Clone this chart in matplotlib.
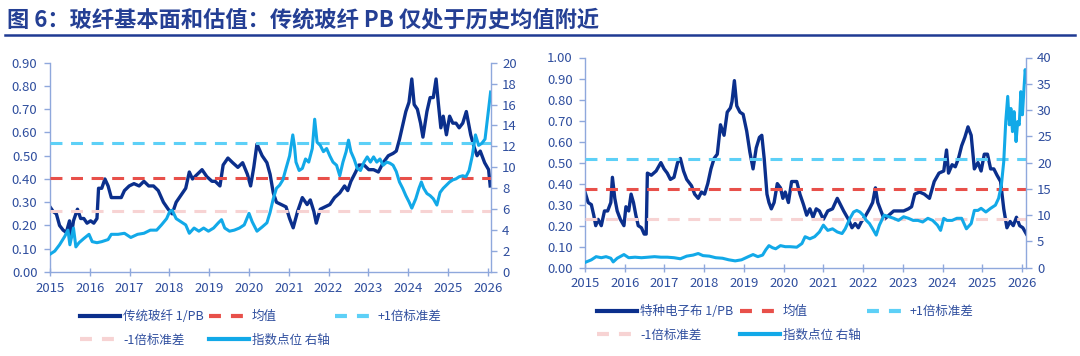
import matplotlib
matplotlib.use('Agg')
import matplotlib.pyplot as plt
from matplotlib.lines import Line2D

plt.rcParams['font.family'] = ['Noto Sans CJK SC', 'DejaVu Sans']
plt.rcParams['lines.scale_dashes'] = False

# ---- 左图: 传统玻纤 ----
gf_pb_dates = [2015.00, 2015.08, 2015.16, 2015.24, 2015.33, 2015.41, 2015.49, 2015.53, 2015.59, 2015.65,
               2015.69, 2015.77, 2015.85, 2015.93, 2016.02, 2016.10, 2016.18, 2016.22, 2016.30, 2016.38,
               2016.46, 2016.54, 2016.67, 2016.79, 2016.87, 2016.99, 2017.11, 2017.24, 2017.36, 2017.48,
               2017.60, 2017.72, 2017.85, 2017.97, 2018.07, 2018.17, 2018.29, 2018.41, 2018.50, 2018.58,
               2018.70, 2018.82, 2018.94, 2019.07, 2019.15, 2019.27, 2019.35, 2019.47, 2019.59, 2019.72,
               2019.84, 2019.96, 2020.04, 2020.12, 2020.20, 2020.33, 2020.45, 2020.53, 2020.61, 2020.69,
               2020.81, 2020.93, 2021.02, 2021.11, 2021.22, 2021.34, 2021.46, 2021.54, 2021.63, 2021.69,
               2021.79, 2021.91, 2022.03, 2022.15, 2022.28, 2022.40, 2022.48, 2022.56, 2022.68, 2022.76,
               2022.89, 2023.01, 2023.13, 2023.25, 2023.37, 2023.50, 2023.62, 2023.70, 2023.78, 2023.86,
               2023.94, 2024.02, 2024.09, 2024.15, 2024.23, 2024.31, 2024.37, 2024.47, 2024.55, 2024.63,
               2024.70, 2024.76, 2024.82, 2024.88, 2024.96, 2025.04, 2025.12, 2025.20, 2025.28, 2025.37,
               2025.46, 2025.57, 2025.65, 2025.73, 2025.81, 2025.92, 2026.02, 2026.06]
gf_pb = [0.28, 0.26, 0.25, 0.20, 0.18, 0.17, 0.22, 0.15, 0.22, 0.25,
         0.27, 0.23, 0.23, 0.21, 0.22, 0.21, 0.23, 0.36, 0.36, 0.40,
         0.37, 0.32, 0.32, 0.32, 0.35, 0.37, 0.38, 0.37, 0.39, 0.37,
         0.37, 0.35, 0.30, 0.27, 0.25, 0.30, 0.33, 0.36, 0.43, 0.40,
         0.42, 0.44, 0.41, 0.39, 0.39, 0.37, 0.46, 0.49, 0.47, 0.45,
         0.47, 0.42, 0.37, 0.45, 0.55, 0.50, 0.47, 0.42, 0.34, 0.30,
         0.29, 0.28, 0.23, 0.19, 0.26, 0.32, 0.29, 0.31, 0.26, 0.21,
         0.27, 0.28, 0.29, 0.32, 0.34, 0.37, 0.35, 0.39, 0.43, 0.46,
         0.46, 0.44, 0.44, 0.43, 0.47, 0.50, 0.51, 0.52, 0.57, 0.63,
         0.69, 0.73, 0.83, 0.72, 0.70, 0.64, 0.58, 0.69, 0.75, 0.75,
         0.83, 0.72, 0.62, 0.67, 0.59, 0.67, 0.64, 0.64, 0.62, 0.64,
         0.69, 0.59, 0.54, 0.50, 0.52, 0.47, 0.44, 0.37]

gf_idx_dates = [2015.00, 2015.12, 2015.24, 2015.37, 2015.45, 2015.50, 2015.59, 2015.65, 2015.73, 2015.85,
                2015.98, 2016.06, 2016.18, 2016.30, 2016.46, 2016.54, 2016.71, 2016.87, 2017.03, 2017.20,
                2017.36, 2017.52, 2017.68, 2017.80, 2017.93, 2018.01, 2018.07, 2018.17, 2018.29, 2018.41,
                2018.50, 2018.62, 2018.74, 2018.86, 2018.98, 2019.11, 2019.23, 2019.31, 2019.39, 2019.51,
                2019.63, 2019.76, 2019.88, 2020.00, 2020.08, 2020.20, 2020.33, 2020.45, 2020.53, 2020.61,
                2020.69, 2020.77, 2020.85, 2020.93, 2021.02, 2021.10, 2021.14, 2021.18, 2021.26, 2021.34,
                2021.42, 2021.50, 2021.59, 2021.65, 2021.71, 2021.79, 2021.87, 2021.95, 2022.03, 2022.11,
                2022.20, 2022.28, 2022.36, 2022.44, 2022.50, 2022.56, 2022.64, 2022.72, 2022.80, 2022.89,
                2022.97, 2023.05, 2023.13, 2023.21, 2023.29, 2023.37, 2023.46, 2023.54, 2023.62, 2023.70,
                2023.78, 2023.86, 2023.94, 2024.02, 2024.09, 2024.19, 2024.27, 2024.33, 2024.39, 2024.47,
                2024.55, 2024.63, 2024.72, 2024.80, 2024.88, 2024.96, 2025.04, 2025.12, 2025.20, 2025.28,
                2025.37, 2025.45, 2025.53, 2025.61, 2025.69, 2025.77, 2025.85, 2025.93, 2025.98, 2026.03,
                2026.07]
gf_idx = [1.7, 2.0, 2.6, 3.4, 4.0, 2.6, 4.2, 2.4, 2.8, 3.2,
          3.6, 2.9, 2.8, 2.9, 3.1, 3.6, 3.6, 3.7, 3.3, 3.6,
          3.7, 4.0, 4.0, 4.5, 5.1, 5.8, 5.9, 5.1, 4.8, 4.5,
          3.7, 4.2, 3.9, 4.2, 3.9, 4.2, 4.7, 5.0, 4.2, 3.9,
          4.0, 4.2, 4.5, 5.6, 4.8, 3.9, 4.3, 4.7, 5.7, 7.0,
          8.0, 8.3, 8.8, 9.9, 11.1, 13.1, 12.1, 10.5, 9.7, 9.9,
          10.8, 10.5, 11.8, 14.6, 12.4, 12.1, 11.5, 11.8, 11.1, 10.5,
          10.2, 9.2, 10.5, 11.5, 12.6, 11.5, 10.8, 9.9, 9.7, 10.5,
          11.0, 10.5, 11.0, 10.5, 10.8, 10.2, 10.5, 10.4, 10.2, 9.6,
          8.6, 8.0, 7.3, 6.7, 6.1, 7.0, 8.0, 8.6, 8.0, 7.5,
          7.3, 7.0, 6.4, 7.6, 8.0, 8.3, 8.6, 8.8, 8.9, 9.1,
          9.2, 9.1, 9.7, 11.1, 13.1, 12.1, 12.3, 12.7, 14.3, 15.9,
          17.2]
gf_mean, gf_up, gf_dn = 0.405, 0.553, 0.263

# ---- 右图: 特种电子布 ----
ec_pb_dates = [2015.00, 2015.08, 2015.16, 2015.22, 2015.27, 2015.33, 2015.41, 2015.49, 2015.57, 2015.65,
               2015.69, 2015.75, 2015.81, 2015.89, 2015.98, 2016.03, 2016.10, 2016.16, 2016.22, 2016.28,
               2016.34, 2016.42, 2016.49, 2016.54, 2016.57, 2016.67, 2016.79, 2016.91, 2016.99, 2017.07,
               2017.15, 2017.24, 2017.33, 2017.40, 2017.48, 2017.56, 2017.68, 2017.76, 2017.85, 2017.93,
               2018.01, 2018.09, 2018.17, 2018.25, 2018.33, 2018.41, 2018.50, 2018.58, 2018.66, 2018.70,
               2018.76, 2018.82, 2018.90, 2018.98, 2019.07, 2019.15, 2019.23, 2019.31, 2019.39, 2019.45,
               2019.51, 2019.58, 2019.63, 2019.69, 2019.76, 2019.84, 2019.92, 2019.98, 2020.04, 2020.12,
               2020.20, 2020.33, 2020.41, 2020.50, 2020.58, 2020.66, 2020.74, 2020.82, 2020.90, 2021.00,
               2021.11, 2021.23, 2021.35, 2021.43, 2021.51, 2021.63, 2021.72, 2021.80, 2021.88, 2021.96,
               2022.04, 2022.16, 2022.24, 2022.31, 2022.37, 2022.45, 2022.53, 2022.65, 2022.77, 2022.89,
               2023.02, 2023.14, 2023.22, 2023.30, 2023.42, 2023.54, 2023.67, 2023.79, 2023.91, 2024.03,
               2024.10, 2024.15, 2024.24, 2024.32, 2024.40, 2024.48, 2024.56, 2024.64, 2024.72, 2024.80,
               2024.89, 2024.97, 2025.05, 2025.13, 2025.21, 2025.29, 2025.37, 2025.46, 2025.54, 2025.62,
               2025.70, 2025.78, 2025.86, 2025.94, 2026.02, 2026.11]
ec_pb = [0.36, 0.31, 0.30, 0.25, 0.20, 0.23, 0.20, 0.27, 0.27, 0.31,
         0.43, 0.33, 0.27, 0.23, 0.20, 0.29, 0.27, 0.35, 0.31, 0.25,
         0.20, 0.19, 0.16, 0.16, 0.45, 0.44, 0.46, 0.50, 0.47, 0.45,
         0.42, 0.43, 0.50, 0.52, 0.46, 0.42, 0.39, 0.35, 0.33, 0.36,
         0.35, 0.40, 0.47, 0.52, 0.54, 0.68, 0.63, 0.74, 0.76, 0.79,
         0.89, 0.77, 0.74, 0.73, 0.65, 0.55, 0.47, 0.57, 0.62, 0.63,
         0.52, 0.35, 0.31, 0.28, 0.31, 0.40, 0.38, 0.33, 0.36, 0.31,
         0.41, 0.41, 0.35, 0.30, 0.25, 0.28, 0.24, 0.28, 0.27, 0.23,
         0.27, 0.28, 0.33, 0.30, 0.27, 0.23, 0.19, 0.21, 0.19, 0.22,
         0.24, 0.28, 0.31, 0.38, 0.31, 0.27, 0.23, 0.25, 0.27, 0.27,
         0.27, 0.28, 0.29, 0.35, 0.36, 0.35, 0.33, 0.41, 0.45, 0.46,
         0.56, 0.45, 0.49, 0.48, 0.52, 0.58, 0.62, 0.67, 0.63, 0.47,
         0.50, 0.46, 0.54, 0.54, 0.47, 0.47, 0.44, 0.41, 0.28, 0.19,
         0.22, 0.20, 0.24, 0.20, 0.19, 0.16]

ec_idx_dates = [2015.00, 2015.16, 2015.28, 2015.41, 2015.53, 2015.65, 2015.71, 2015.81, 2015.98, 2016.10,
                2016.26, 2016.42, 2016.59, 2016.75, 2016.91, 2017.07, 2017.24, 2017.40, 2017.56, 2017.72,
                2017.85, 2017.97, 2018.13, 2018.29, 2018.46, 2018.62, 2018.78, 2018.94, 2019.11, 2019.23,
                2019.35, 2019.47, 2019.55, 2019.63, 2019.72, 2019.80, 2019.92, 2020.04, 2020.16, 2020.33,
                2020.46, 2020.54, 2020.66, 2020.78, 2020.90, 2021.00, 2021.11, 2021.23, 2021.35, 2021.47,
                2021.55, 2021.67, 2021.76, 2021.84, 2021.92, 2022.00, 2022.08, 2022.16, 2022.24, 2022.33,
                2022.41, 2022.53, 2022.65, 2022.77, 2022.89, 2023.02, 2023.14, 2023.26, 2023.38, 2023.50,
                2023.63, 2023.75, 2023.87, 2023.95, 2024.03, 2024.11, 2024.24, 2024.36, 2024.48, 2024.60,
                2024.72, 2024.80, 2024.89, 2024.97, 2025.09, 2025.21, 2025.33, 2025.41, 2025.48, 2025.54,
                2025.59, 2025.64, 2025.68, 2025.72, 2025.76, 2025.80, 2025.85, 2025.89, 2025.93, 2025.97,
                2026.01, 2026.05, 2026.08, 2026.11]
ec_idx = [1.0, 1.5, 2.1, 1.9, 2.1, 1.8, 1.1, 1.8, 2.5, 1.9,
          2.0, 1.9, 2.0, 2.1, 2.0, 2.0, 1.9, 1.7, 2.2, 2.4,
          2.7, 2.3, 2.2, 1.9, 1.8, 1.5, 1.3, 1.5, 2.1, 2.5,
          2.1, 2.4, 3.4, 4.2, 3.8, 3.6, 4.2, 4.0, 4.0, 3.9,
          4.6, 5.9, 5.5, 5.9, 6.8, 8.1, 7.1, 7.4, 6.8, 6.5,
          7.4, 9.4, 10.6, 10.9, 10.6, 10.0, 9.0, 8.4, 7.4, 6.2,
          8.1, 10.0, 9.7, 9.4, 9.0, 9.7, 9.4, 9.0, 9.0, 8.7,
          9.4, 9.0, 8.1, 7.1, 9.4, 9.0, 9.0, 9.4, 9.4, 7.4,
          8.4, 10.9, 10.9, 11.3, 10.6, 11.3, 11.9, 13.2, 15.7, 20.2,
          27.8, 32.6, 27.2, 30.3, 25.9, 29.7, 24.0, 27.8, 27.2, 33.5,
          29.1, 34.2, 37.7, 35.4]
ec_mean, ec_up, ec_dn = 0.375, 0.517, 0.232

years = list(range(2015, 2027))

NAVY = '#0B2F8C'
SKY = '#12A9E8'
RED = '#E8504A'
CYAN = '#5DD0F7'
PINK = '#F7D3D3'
TXT = '#2F4E9E'
AXC = '#8FA8DC'
DASH = (8.6, 6.2)

W, H = 1080, 356
fig = plt.figure(figsize=(W / 100, H / 100), dpi=100)


def make_panel(box, d1, v1, d2, v2, mean, up, dn, lmax, lstep, rmax, rstep, xmax):
    x0, y0, x1, y1 = box
    ax = fig.add_axes([x0 / W, 1 - y1 / H, (x1 - x0) / W, (y1 - y0) / H])
    ax.plot(d1, v1, color=NAVY, lw=2.4, solid_joinstyle='round', zorder=2)
    ax.axhline(mean, color=RED, lw=2.2, dashes=DASH, zorder=3)
    ax.axhline(up, color=CYAN, lw=2.2, dashes=DASH, zorder=3)
    ax.axhline(dn, color=PINK, lw=2.2, dashes=DASH, zorder=3)
    ax.set_ylim(0, lmax)
    ax.set_xlim(2015, xmax)
    n = int(round(lmax / lstep))
    ax.set_yticks([i * lstep for i in range(n + 1)])
    ax.set_yticklabels(['%.2f' % (i * lstep) for i in range(n + 1)])
    ax.set_xticks(years)
    ax.set_xticklabels([str(y) for y in years])

    ax2 = ax.twinx()
    ax2.plot(d2, v2, color=SKY, lw=2.2, solid_joinstyle='round')
    ax2.set_ylim(0, rmax)
    ax2.set_yticks(list(range(0, rmax + 1, rstep)))

    for a in (ax, ax2):
        for s in a.spines.values():
            s.set_color(AXC)
            s.set_linewidth(1.0)
        a.spines['top'].set_visible(False)
        a.tick_params(colors=AXC, labelcolor=TXT, labelsize=9.5, width=1.0)
    ax.spines['right'].set_visible(False)
    ax2.spines['left'].set_visible(False)
    ax2.spines['bottom'].set_visible(False)
    ax.tick_params(axis='x', direction='inout', length=6, pad=4)
    ax.tick_params(axis='y', direction='out', length=4, pad=5)
    ax2.tick_params(axis='y', direction='out', length=4, pad=4)
    return ax, ax2


make_panel((50, 62.7, 491, 272), gf_pb_dates, gf_pb, gf_idx_dates, gf_idx,
           gf_mean, gf_up, gf_dn, 0.9, 0.1, 20, 2, 2026.08)
make_panel((585, 57.5, 1026, 267.7), ec_pb_dates, ec_pb, ec_idx_dates, ec_idx,
           ec_mean, ec_up, ec_dn, 1.0, 0.1, 40, 5, 2026.1)


def add_legend(name, x, ytop, colsp):
    h_pb = Line2D([], [], color=NAVY, lw=3)
    h_mean = Line2D([], [], color=RED, lw=3, dashes=(8.6, 7.2))
    h_up = Line2D([], [], color=CYAN, lw=3, dashes=(8.6, 7.2))
    h_dn = Line2D([], [], color=PINK, lw=3, dashes=(8.6, 7.2))
    h_idx = Line2D([], [], color=SKY, lw=3)
    # matplotlib fills column first, so order for row-wise look
    handles = [h_pb, h_dn, h_mean, h_idx, h_up]
    labels = [name, '-1倍标准差', '均值', '指数点位 右轴', '+1倍标准差']
    leg = fig.legend(handles, labels, loc='upper left', bbox_to_anchor=(x / W, 1 - ytop / H),
                     ncol=3, frameon=False, fontsize=9, handlelength=3.2, handletextpad=0.25,
                     columnspacing=colsp, borderpad=0, borderaxespad=0, labelspacing=0.85)
    for t in leg.get_texts():
        t.set_color(TXT)


add_legend('传统玻纤 1/PB', 80, 310, 0.4)
add_legend('特种电子布 1/PB', 597, 305, 0.5)

fig.text(7 / W, 1 - 20 / H, '图 6：玻纤基本面和估值：传统玻纤 PB 仅处于历史均值附近',
         fontsize=16, fontweight='bold', color='#243F94', va='center', ha='left')
fig.add_artist(Line2D([5 / W, 1075 / W], [1 - 35 / H, 1 - 35 / H], color='#1F3A93', lw=1.8))

fig.savefig('out.png', dpi=100, facecolor='white')
